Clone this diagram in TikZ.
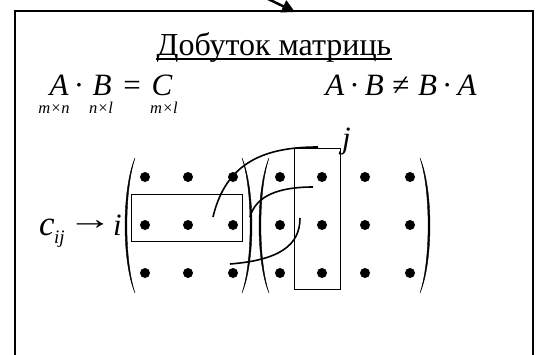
\documentclass[tikz,border=0pt]{standalone}
\usepackage{fontspec}
\setmainfont{Liberation Serif}
\usetikzlibrary{arrows.meta}
\begin{document}
\begin{tikzpicture}[x=1pt,y=-1pt,
  frameline/.style={line width=2pt},
  mdot/.style={circle,fill,inner sep=0pt,minimum size=10pt},
  lbl/.style={inner sep=0pt,anchor=base},
  big/.style={lbl,font=\fontsize{31}{34}\selectfont\itshape},
  bigup/.style={lbl,font=\fontsize{31}{34}\selectfont},
  small/.style={lbl,font=\fontsize{16.5}{18}\selectfont\itshape},
  parenf/.style={fill=black,draw=black,line width=0.4pt},
  link/.style={line width=1.6pt},
  selbox/.style={draw,line width=1pt}]
\useasboundingbox (0,0) rectangle (544,354);
% frame and incoming arrow
\coordinate (fbl) at (15,362);
\coordinate (ftl) at (15,11);
\coordinate (ftr) at (533,11);
\coordinate (fbr) at (533,362);
\draw[frameline] (fbl) -- (ftl) -- (ftr) -- (fbr);
\coordinate (as) at (262,-4);
\coordinate (at) at (295,12);
\draw[line width=2.5pt,-{Triangle[length=13pt,width=13pt]}] (as) -- (at);
% title
\node[lbl,font=\fontsize{32}{36}\selectfont] (title) at (274,55) {Добуток матриць};
\draw[line width=1.2pt] ([yshift=-4pt]title.base west) -- ([yshift=-4pt]title.base east);
% A . B = C
\node[big] (eA) at (59,95) {A};
\node[bigup] (d1) at (79,95) {·};
\node[big] (eB) at (102,95) {B};
\node[bigup] (eq) at (132,95) {=};
\node[big] (eC) at (162,95) {C};
\node[small] (sA) at (54,113) {m×n};
\node[small] (sB) at (101,113) {n×l};
\node[small] (sC) at (164,113) {m×l};
\node[lbl,font=\fontsize{31}{34}\selectfont] (neq) at (401,95)
  {\textit{A}\,·\,\textit{B}\;≠\;\textit{B}\,·\,\textit{A}};
% c_ij -> i
\node[lbl,anchor=base west,font=\fontsize{35}{38}\selectfont\itshape] (c) at (39,235) {c};
\node[small,anchor=base west,font=\fontsize{19}{20}\selectfont\itshape] (ij) at (54,243) {ij};
\node[bigup,anchor=center] (arr) at (90,225) {\scalebox{1.45}[1]{→}};
\node[big,anchor=base west] (ii) at (113,235) {i};
\node[big,anchor=base west] (jj) at (342,148) {j};
% matrix dots
\foreach \r/\y in {1/177,2/225,3/273}{
  \foreach \c/\x in {1/145,2/188,3/233}{
    \node[mdot] (a\r\c) at (\x,\y) {};
  }
  \foreach \c/\x in {1/280,2/322,3/365,4/410}{
    \node[mdot] (b\r\c) at (\x,\y) {};
  }
}
% parentheses
\filldraw[parenf] (135,158) .. controls (121.7,190) and (121.7,261) .. (135,293)
  .. controls (124.2,261) and (124.2,190) .. cycle;
\filldraw[parenf] (242,158) .. controls (255.3,190) and (255.3,261) .. (242,293)
  .. controls (252.8,261) and (252.8,190) .. cycle;
\filldraw[parenf] (269,158) .. controls (255.7,190) and (255.7,261) .. (269,293)
  .. controls (258.2,261) and (258.2,190) .. cycle;
\filldraw[parenf] (420,158) .. controls (433.3,190) and (433.3,261) .. (420,293)
  .. controls (430.8,261) and (430.8,190) .. cycle;
% selection boxes
\node[selbox,inner sep=0pt,minimum width=111pt,minimum height=47pt] (rowbox) at (186.5,217.5) {};
\node[selbox,inner sep=0pt,minimum width=46pt,minimum height=141pt] (colbox) at (317,218.5) {};
% linking curves
\coordinate (l1s) at (213,217);
\coordinate (l1e) at (318,147);
\coordinate (l2s) at (250,217);
\coordinate (l2e) at (313,187);
\coordinate (l3s) at (230,264);
\coordinate (l3e) at (300,218);
\draw[link] (l1s) .. controls (226,162) and (265,147) .. (l1e);
\draw[link] (l2s) .. controls (256,195) and (280,187) .. (l2e);
\draw[link] (l3s) .. controls (280,260) and (300,245) .. (l3e);
\end{tikzpicture}
\end{document}
